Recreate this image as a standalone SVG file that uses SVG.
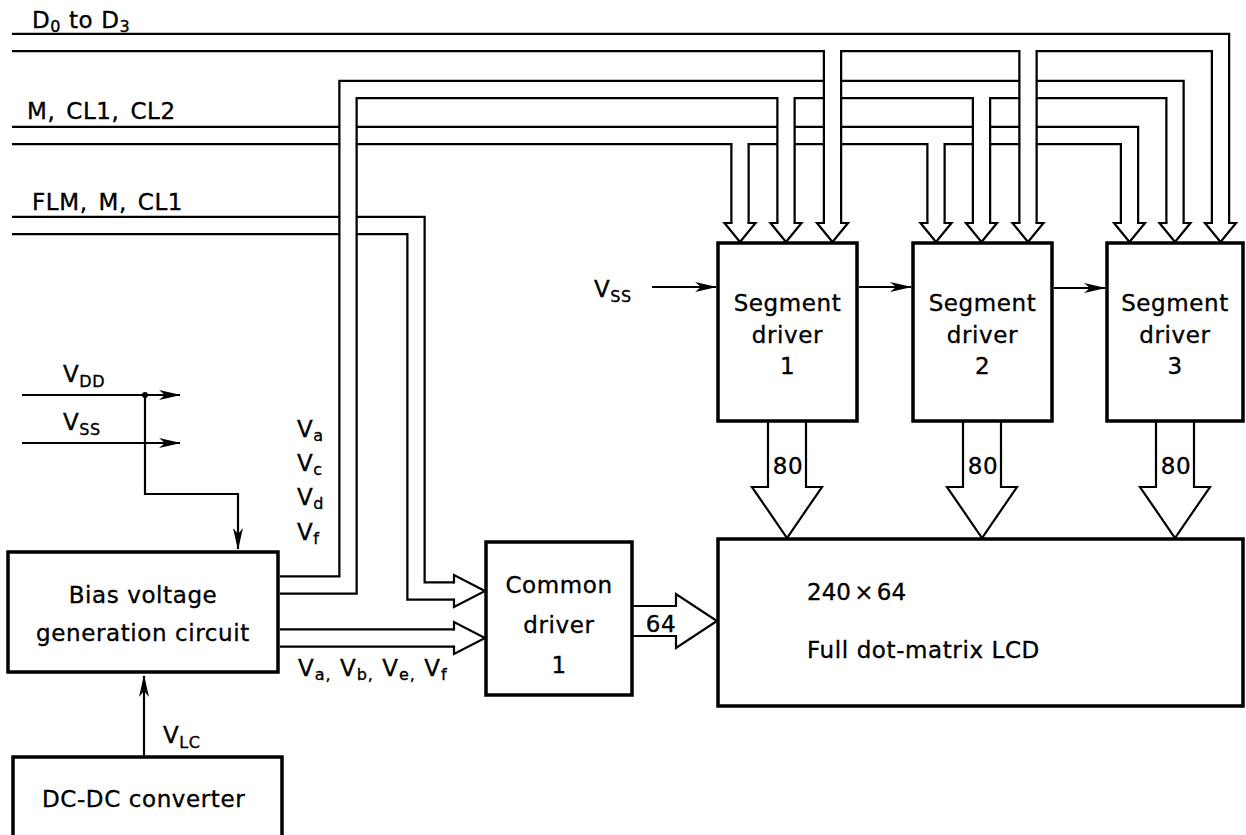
<svg xmlns="http://www.w3.org/2000/svg" xmlns:xlink="http://www.w3.org/1999/xlink" width="1246" height="835" viewBox="0 0 1246 835">
<style>
.box{fill:#fff;stroke:#000;stroke-width:3.5}
.bo{fill:none;stroke:#000;stroke-width:19.5;stroke-linejoin:miter;stroke-linecap:butt}
.bi{fill:none;stroke:#fff;stroke-width:15;stroke-linejoin:miter;stroke-linecap:butt}
.hd{fill:#fff;stroke:#000;stroke-width:2.2;stroke-linejoin:miter}
.ln{fill:none;stroke:#000;stroke-width:2.2}
.arr{marker-end:url(#ah)}
text{font-family:"DejaVu Sans",sans-serif;font-size:23px;letter-spacing:0.6px;fill:#000;stroke:#000;stroke-width:0.35px}
.c{text-anchor:middle}
.sub{font-size:16px}
.lab{word-spacing:3px}
</style>
<defs>
<marker id="ah" viewBox="0 0 22 12" refX="21" refY="6" markerWidth="22" markerHeight="12" markerUnits="userSpaceOnUse" orient="auto">
<path d="M0,1 L22,6 L0,11 L6,6 z" fill="#000"/>
</marker>
<path id="busFLM" d="M12,225.5 H416 V591 H454"/>
<path id="busBC" d="M280,638 H454"/>
<path id="busMCL" d="M12,135.5 H1129.5 V223 M740,135.5 V223 M936,135.5 V223"/>
<path id="busVa" d="M280,585 H348 V89.5 H1175 V223 M786,89.5 V223 M981.5,89.5 V223"/>
<path id="busD" d="M12,42.5 H1220.5 V223 M832.5,42.5 V223 M1028,42.5 V223"/>
</defs>
<rect width="1246" height="835" fill="#fff"/>

<g id="connectors">
<use xlink:href="#busFLM" class="bo"/><use xlink:href="#busFLM" class="bi"/>
<use xlink:href="#busBC" class="bo"/><use xlink:href="#busBC" class="bi"/>
<use xlink:href="#busMCL" class="bo"/><use xlink:href="#busMCL" class="bi"/>
<use xlink:href="#busVa" class="bo"/><use xlink:href="#busVa" class="bi"/>
<use xlink:href="#busD" class="bo"/><use xlink:href="#busD" class="bi"/>
<path class="hd" d="M454,598.5 V607 L485,591 L454,575 V583.5"/>
<path class="hd" d="M454,645.5 V654 L485,638 L454,622 V630.5"/>
<path class="hd" d="M732.5,223 H724.5 L740,242 L755.5,223 H747.5"/>
<path class="hd" d="M778.5,223 H770.5 L786,242 L801.5,223 H793.5"/>
<path class="hd" d="M825,223 H817 L832.5,242 L848,223 H840"/>
<path class="hd" d="M928.5,223 H920.5 L936,242 L951.5,223 H943.5"/>
<path class="hd" d="M974,223 H966 L981.5,242 L997,223 H989"/>
<path class="hd" d="M1020.5,223 H1012.5 L1028,242 L1043.5,223 H1035.5"/>
<path class="hd" d="M1122,223 H1114 L1129.5,242 L1145,223 H1137"/>
<path class="hd" d="M1167.5,223 H1159.5 L1175,242 L1190.5,223 H1182.5"/>
<path class="hd" d="M1213,223 H1205 L1220.5,242 L1236,223 H1228"/>
<path class="hd" d="M768,421 V487 H752 L787,538 L822,487 H806 V421"/>
<path class="hd" d="M963,421 V487 H947 L982,538 L1017,487 H1001 V421"/>
<path class="hd" d="M1156,421 V487 H1140 L1175,538 L1210,487 H1194 V421"/>
<path class="hd" d="M633,606 H676 V594 L717,621 L676,648 V636 H633"/>
<path class="ln arr" d="M22,395 H180"/>
<path class="ln arr" d="M22,443 H180"/>
<path class="ln arr" d="M145,395 V494 H238 V549"/>
<circle cx="145" cy="395" r="3" fill="#000"/>
<path class="ln arr" d="M144,757 V676"/>
<path class="ln arr" d="M652,287 H716"/>
<path class="ln arr" d="M859,287 H911"/>
<path class="ln arr" d="M1054,288 H1105"/>
</g>

<g id="labels">
<text x="32" y="28">D<tspan class="sub" dy="4">0</tspan><tspan dy="-4"> to D</tspan><tspan class="sub" dy="4">3</tspan></text>
<text class="lab" x="27" y="119">M, CL1, CL2</text>
<text class="lab" x="32" y="210">FLM, M, CL1</text>
<text x="63" y="382">V<tspan class="sub" dy="5">DD</tspan></text>
<text x="63" y="430">V<tspan class="sub" dy="5">SS</tspan></text>
<text x="594" y="297">V<tspan class="sub" dy="5">SS</tspan></text>
<text x="297" y="437">V<tspan class="sub" dy="4">a</tspan></text>
<text x="297" y="471">V<tspan class="sub" dy="4">c</tspan></text>
<text x="297" y="505">V<tspan class="sub" dy="4">d</tspan></text>
<text x="297" y="540">V<tspan class="sub" dy="4">f</tspan></text>
<text x="298" y="676" style="letter-spacing:1px">V<tspan class="sub" dy="4">a,</tspan><tspan dy="-4"> V</tspan><tspan class="sub" dy="4">b,</tspan><tspan dy="-4"> V</tspan><tspan class="sub" dy="4">e,</tspan><tspan dy="-4"> V</tspan><tspan class="sub" dy="4">f</tspan></text>
<text x="163" y="743">V<tspan class="sub" dy="5">LC</tspan></text>
<text class="c" x="788" y="474">80</text>
<text class="c" x="983" y="474">80</text>
<text class="c" x="1176" y="474">80</text>
<text class="c" x="661" y="632">64</text>
</g>

<g id="seg1">
<rect class="box" x="718" y="243" width="139" height="178"/>
<text class="c" x="787.5" y="311">Segment</text>
<text class="c" x="787.5" y="343">driver</text>
<text class="c" x="787.5" y="374">1</text>
</g>
<g id="seg2">
<rect class="box" x="913" y="243" width="139" height="178"/>
<text class="c" x="982.5" y="311">Segment</text>
<text class="c" x="982.5" y="343">driver</text>
<text class="c" x="982.5" y="374">2</text>
</g>
<g id="seg3">
<rect class="box" x="1107" y="243" width="136" height="178"/>
<text class="c" x="1175" y="311">Segment</text>
<text class="c" x="1175" y="343">driver</text>
<text class="c" x="1175" y="374">3</text>
</g>
<g id="common">
<rect class="box" x="486" y="542" width="146" height="153"/>
<text class="c" x="559" y="593">Common</text>
<text class="c" x="559" y="633">driver</text>
<text class="c" x="559" y="673">1</text>
</g>
<g id="lcd">
<rect class="box" x="718" y="539" width="525" height="167"/>
<text x="807" y="600" style="letter-spacing:0;word-spacing:-4px">240 × 64</text>
<text x="807" y="658">Full dot-matrix LCD</text>
</g>
<g id="bias">
<rect class="box" x="8" y="552" width="270" height="120"/>
<text class="c" x="143" y="603">Bias voltage</text>
<text class="c" x="143" y="641">generation circuit</text>
</g>
<g id="dcdc">
<rect class="box" x="13" y="757" width="269" height="82"/>
<text x="42" y="807">DC-DC converter</text>
</g>
</svg>
